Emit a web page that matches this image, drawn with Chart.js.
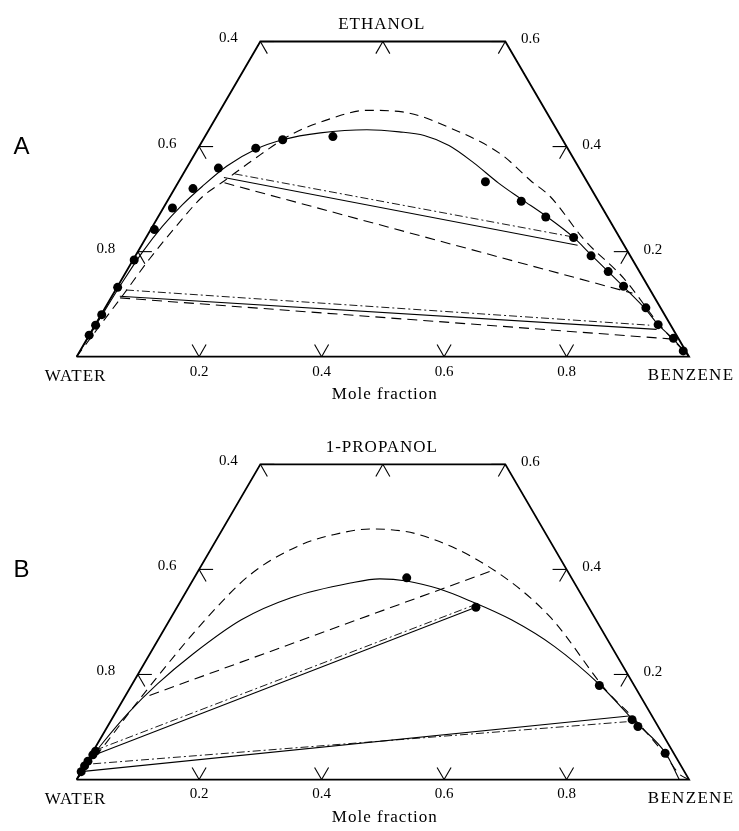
<!DOCTYPE html>
<html lang="en">
<head>
<meta charset="UTF-8">
<title>Ternary liquid-liquid equilibrium</title>
<script src="https://cdn.jsdelivr.net/npm/chart.js"></script>
<style>
  body { margin: 0; background: #fff; }
  canvas { display: block; }
</style>
</head>
<body>
<canvas id="chartA" width="739" height="415"></canvas>
<canvas id="chartB" width="739" height="416"></canvas>
<script>
// compositions are [x_benzene, x_alcohol] mole fractions

// A: ethanol / water / benzene
const ethDots = [[0.000,0.041],[0.001,0.060],[0.001,0.080],[0.001,0.132],[0.002,0.184],[0.006,0.242],
  [0.015,0.283],[0.030,0.320],[0.052,0.359],[0.094,0.397],[0.130,0.413],[0.209,0.419],
  [0.501,0.333],[0.578,0.296],[0.633,0.266],[0.698,0.227],[0.744,0.192],[0.787,0.162],
  [0.826,0.134],[0.883,0.093],[0.919,0.061],[0.957,0.035],[0.985,0.011]];
const ethSolidCurve = [[0,0],[0.001,0.037],[0.002,0.084],[0.004,0.143],[0.008,0.199],[0.016,0.248],
  [0.028,0.289],[0.043,0.324],[0.064,0.363],[0.095,0.395],[0.130,0.413],[0.185,0.426],[0.258,0.432],
  [0.313,0.428],[0.357,0.421],[0.407,0.402],[0.464,0.369],[0.523,0.331],[0.576,0.300],[0.632,0.268],
  [0.698,0.227],[0.743,0.194],[0.787,0.162],[0.828,0.132],[0.883,0.091],[0.919,0.061],[0.957,0.034],[1,0]];
const ethDashedCurve = [[0,0],[0.008,0.056],[0.017,0.117],[0.026,0.186],[0.039,0.251],[0.053,0.304],
  [0.074,0.335],[0.099,0.372],[0.139,0.423],[0.188,0.453],[0.239,0.469],[0.299,0.466],[0.396,0.434],
  [0.501,0.385],[0.574,0.335],[0.622,0.304],[0.717,0.223],[0.819,0.149],[0.921,0.061],[0.975,0.019],[1,0]];
const ethTieSolid = [[[0.070,0.341],[0.712,0.212]], [[0.013,0.115],[0.921,0.052]]];
const ethTieDashed = [[[0.076,0.331],[0.847,0.121]], [[0.015,0.112],[0.951,0.034]]];
const ethTieDashDot = [[[0.084,0.348],[0.691,0.229]], [[0.017,0.127],[0.905,0.060]]];

// B: 1-propanol / water / benzene
const propDots = [[0.000,0.015],[0.000,0.026],[0.001,0.035],[0.003,0.047],[0.004,0.054],
  [0.347,0.384],[0.488,0.328],[0.764,0.179],[0.850,0.114],[0.866,0.101],[0.936,0.050]];
const propSolidCurve = [[0,0],[0.002,0.034],[0.008,0.071],[0.021,0.127],[0.041,0.182],[0.070,0.238],
  [0.117,0.304],[0.177,0.346],[0.260,0.374],[0.304,0.382],[0.350,0.378],[0.410,0.363],[0.470,0.341],
  [0.558,0.304],[0.654,0.253],[0.766,0.179],[0.854,0.112],[0.939,0.048],[0.984,0]];
const propDashedCurve = [[0,0],[0.011,0.056],[0.029,0.168],[0.058,0.304],[0.089,0.391],[0.143,0.447],
  [0.186,0.466],[0.241,0.477],[0.327,0.466],[0.476,0.402],[0.619,0.309],[0.782,0.168],[0.851,0.117],
  [0.942,0.043],[0.978,0.011],[1,0]];
const propTieSolid = [[[0.008,0.048],[0.488,0.328]], [[0.000,0.015],[0.841,0.121]]];
const propTieDashed = [[[0.039,0.160],[0.482,0.399]]];
const propTieDashDot = [[[0.003,0.056],[0.481,0.331]], [[0.012,0.030],[0.843,0.110]]];

// axes / ticks
const topCut = 0.6;                 // alcohol fraction where the triangle is cut
const bottomTicks = [0.2, 0.4, 0.6, 0.8];   // benzene
const leftTicks = [0.4, 0.6, 0.8];          // water, on the left side
const rightTicks = [0.2, 0.4, 0.6];         // alcohol, on the right side
const topTicks = [0.2];                     // benzene, on the top cut

const S3 = Math.sqrt(3) / 2;
function toXY(p) { return { x: p[0] + p[1] / 2, y: p[1] * S3 }; }

function lineSet(pts, dash, width, smooth) {
  return {
    data: pts.map(toXY), showLine: true, borderColor: '#000', borderWidth: width,
    borderDash: dash, pointRadius: 0, fill: false, tension: 0,
    cubicInterpolationMode: smooth ? 'monotone' : 'default'
  };
}

function buildDatasets(dots, solid, dashed, tieS, tieD, tieDD) {
  const outline = [[0,0],[0,topCut],[1-topCut,topCut],[1,0],[0,0]];
  const ds = [lineSet(outline, [], 1.8, false)];
  ds.push(lineSet(solid, [], 1.1, true));
  ds.push(lineSet(dashed, [9,6], 1.1, true));
  tieS.forEach(t => ds.push(lineSet(t, [], 1.1, false)));
  tieD.forEach(t => ds.push(lineSet(t, [10,6], 1.1, false)));
  tieDD.forEach(t => ds.push(lineSet(t, [8,3,2,3], 0.9, false)));
  ds.push({ data: dots.map(toXY), pointRadius: 4.5, pointBackgroundColor: '#000',
            pointBorderColor: '#000', borderWidth: 0, showLine: false });
  return ds;
}

function txt(ctx, s, x, y, font, spacing) {
  ctx.font = font;
  ctx.letterSpacing = (spacing || 0) + 'px';
  ctx.fillText(s, x, y);
}

// ticks and text drawn through the scales
function decorPlugin(title, letter) {
  return {
    id: 'decor',
    afterDatasetsDraw(chart) {
      const ctx = chart.ctx, xs = chart.scales.x, ys = chart.scales.y;
      const px = p => { const q = toXY(p); return [xs.getPixelForValue(q.x), ys.getPixelForValue(q.y)]; };
      const L = 14, c = 0.5, s = S3;
      ctx.save();
      ctx.strokeStyle = '#000';
      ctx.lineWidth = 1.1;
      ctx.fillStyle = '#000';
      ctx.textAlign = 'center';
      ctx.textBaseline = 'middle';
      const arms = (p, dirs) => {
        dirs.forEach(d => {
          ctx.beginPath();
          ctx.moveTo(p[0], p[1]);
          ctx.lineTo(p[0] + d[0] * L, p[1] + d[1] * L);
          ctx.stroke();
        });
      };
      const num = '15px "Liberation Serif"';
      bottomTicks.forEach(b => {
        const p = px([b, 0]);
        arms(p, [[-c, -s], [c, -s]]);
        txt(ctx, b.toFixed(1), p[0], p[1] + 15, num);
      });
      leftTicks.forEach(w => {
        const p = px([0, 1 - w]);
        arms(p, [[1, 0], [c, s]]);
        txt(ctx, w.toFixed(1), p[0] - 32, p[1] - 3, num);
      });
      rightTicks.forEach(e => {
        const p = px([1 - e, e]);
        arms(p, [[-1, 0], [-c, s]]);
        txt(ctx, e.toFixed(1), p[0] + 25, p[1] - 2, num);
      });
      topTicks.forEach(b => {
        const p = px([b, topCut]);
        arms(p, [[-c, s], [c, s]]);
      });
      const mid = px([(1 - topCut) / 2, topCut]);
      txt(ctx, title, mid[0] - 1, mid[1] - 17, '17px "Liberation Serif"', 1);
      const w0 = px([0, 0]), b0 = px([1, 0]);
      txt(ctx, 'WATER', w0[0] - 1, w0[1] + 20, '17px "Liberation Serif"', 1);
      txt(ctx, 'BENZENE', b0[0] + 2, b0[1] + 19, '17px "Liberation Serif"', 1.3);
      txt(ctx, 'Mole fraction', (w0[0] + b0[0]) / 2 + 2, w0[1] + 38, '17px "Liberation Serif"', 1);
      txt(ctx, letter, w0[0] - 55, mid[1] + 106, '24px "Liberation Sans"', 0);
      ctx.restore();
    }
  };
}

function makeChart(id, zeroPx, datasets, title, letter) {
  const canvas = document.getElementById(id);
  const ppu = 620;          // pixels per unit side length
  const left = 73;          // water corner
  return new Chart(canvas, {
    type: 'scatter',
    data: { datasets: datasets },
    options: {
      responsive: false,
      animation: false,
      layout: { padding: 0 },
      plugins: { legend: { display: false }, tooltip: { enabled: false } },
      scales: {
        x: { type: 'linear', display: false, min: -left / ppu, max: (canvas.width - left) / ppu },
        y: { type: 'linear', display: false, min: (zeroPx - canvas.height) / ppu, max: zeroPx / ppu }
      }
    },
    plugins: [decorPlugin(title, letter)]
  });
}

makeChart('chartA', 360,
  buildDatasets(ethDots, ethSolidCurve, ethDashedCurve, ethTieSolid, ethTieDashed, ethTieDashDot),
  'ETHANOL', 'A');
makeChart('chartB', 368,
  buildDatasets(propDots, propSolidCurve, propDashedCurve, propTieSolid, propTieDashed, propTieDashDot),
  '1-PROPANOL', 'B');
</script>
</body>
</html>
